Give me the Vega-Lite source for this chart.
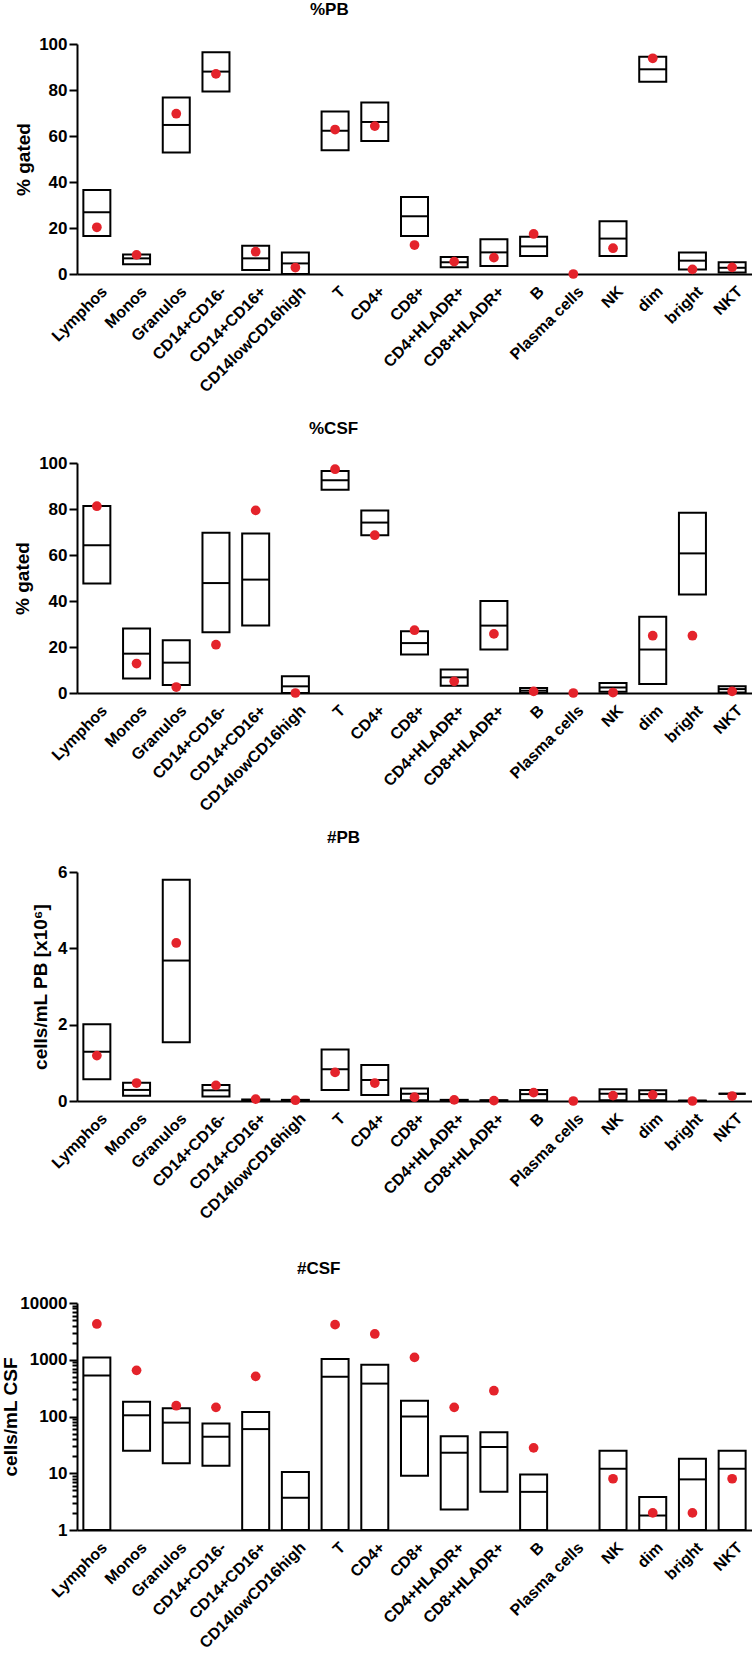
{
  "$schema": "https://vega.github.io/schema/vega-lite/v6.json",
  "padding": {"left": 0, "top": 1, "right": 0, "bottom": 0},
  "background": "white",
  "spacing": 15,
  "config": {
    "view": {"stroke": null},
    "font": "Liberation Sans",
    "axis": {"domainColor": "black", "domainWidth": 2, "tickColor": "black", "tickWidth": 2, "labelFont": "Liberation Sans", "labelFontSize": 16, "labelFontWeight": "bold", "labelColor": "black", "titleFont": "Liberation Sans", "titleFontSize": 19, "titleFontWeight": "bold", "titleColor": "black", "grid": false},
    "axisX": {"ticks": false, "labelAngle": -45, "labelPadding": 9, "labelOffset": 2},
    "axisY": {"tickSize": 8, "labelPadding": 2, "labelFontSize": 17},
    "title": {"font": "Liberation Sans", "fontSize": 17, "fontWeight": "bold", "color": "black", "anchor": "start", "dx": 296, "offset": 16}
  },
  "datasets": {
    "pbpct": [
      {"cell": "Lymphos", "lo": 16.5, "hi": 36.5, "med": 26.8, "pt": 20.3},
      {"cell": "Monos", "lo": 4.2, "hi": 8.5, "med": 6.8, "pt": 8.3},
      {"cell": "Granulos", "lo": 52.8, "hi": 76.7, "med": 64.8, "pt": 69.7},
      {"cell": "CD14+CD16-", "lo": 79.3, "hi": 96.4, "med": 88.0, "pt": 87.0},
      {"cell": "CD14+CD16+", "lo": 1.7, "hi": 12.3, "med": 6.8, "pt": 9.7},
      {"cell": "CD14lowCD16high", "lo": 0, "hi": 9.4, "med": 4.6, "pt": 2.8},
      {"cell": "T", "lo": 53.8, "hi": 70.6, "med": 62.3, "pt": 62.8},
      {"cell": "CD4+", "lo": 57.8, "hi": 74.6, "med": 66.1, "pt": 64.3},
      {"cell": "CD8+", "lo": 16.5, "hi": 33.5, "med": 25.1, "pt": 12.6},
      {"cell": "CD4+HLADR+", "lo": 2.9, "hi": 7.4, "med": 5.1, "pt": 5.4},
      {"cell": "CD8+HLADR+", "lo": 3.5, "hi": 15.1, "med": 9.4, "pt": 7.1},
      {"cell": "B", "lo": 7.8, "hi": 16.2, "med": 12.0, "pt": 17.4},
      {"cell": "Plasma cells", "lo": null, "hi": null, "med": null, "pt": 0},
      {"cell": "NK", "lo": 7.8, "hi": 22.9, "med": 15.4, "pt": 11.2},
      {"cell": "dim", "lo": 83.6, "hi": 94.5, "med": 89.0, "pt": 93.8},
      {"cell": "bright", "lo": 2.0, "hi": 9.3, "med": 5.8, "pt": 2.0},
      {"cell": "NKT", "lo": 0.6, "hi": 5.1, "med": 2.7, "pt": 2.9}
    ],
    "csfpct": [
      {"cell": "Lymphos", "lo": 47.6, "hi": 81.3, "med": 64.2, "pt": 81.2},
      {"cell": "Monos", "lo": 6.3, "hi": 28.0, "med": 17.1, "pt": 12.8},
      {"cell": "Granulos", "lo": 3.5, "hi": 22.9, "med": 13.2, "pt": 2.6},
      {"cell": "CD14+CD16-", "lo": 26.4, "hi": 69.7, "med": 47.8, "pt": 21.0},
      {"cell": "CD14+CD16+", "lo": 29.3, "hi": 69.3, "med": 49.3, "pt": 79.4},
      {"cell": "CD14lowCD16high", "lo": 0, "hi": 7.3, "med": 2.9, "pt": 0},
      {"cell": "T", "lo": 88.4, "hi": 96.5, "med": 92.5, "pt": 97.3},
      {"cell": "CD4+", "lo": 68.6, "hi": 79.4, "med": 74.1, "pt": 68.6},
      {"cell": "CD8+", "lo": 16.7, "hi": 26.8, "med": 21.7, "pt": 27.3},
      {"cell": "CD4+HLADR+", "lo": 3.2, "hi": 10.2, "med": 6.8, "pt": 5.1},
      {"cell": "CD8+HLADR+", "lo": 18.9, "hi": 40.0, "med": 29.3, "pt": 25.7},
      {"cell": "B", "lo": 0, "hi": 2.2, "med": 1.0, "pt": 0.7},
      {"cell": "Plasma cells", "lo": null, "hi": null, "med": null, "pt": 0},
      {"cell": "NK", "lo": 0.5, "hi": 4.4, "med": 2.4, "pt": 0.2},
      {"cell": "dim", "lo": 3.9, "hi": 33.2, "med": 18.9, "pt": 24.9},
      {"cell": "bright", "lo": 42.8, "hi": 78.4, "med": 60.7, "pt": 24.9},
      {"cell": "NKT", "lo": 0.2, "hi": 2.9, "med": 1.7, "pt": 0.7}
    ],
    "pbabs": [
      {"cell": "Lymphos", "lo": 0.57, "hi": 2.01, "med": 1.29, "pt": 1.19},
      {"cell": "Monos", "lo": 0.14, "hi": 0.48, "med": 0.29, "pt": 0.47},
      {"cell": "Granulos", "lo": 1.54, "hi": 5.8, "med": 3.68, "pt": 4.14},
      {"cell": "CD14+CD16-", "lo": 0.12, "hi": 0.42, "med": 0.28, "pt": 0.41},
      {"cell": "CD14+CD16+", "lo": 0, "hi": 0.04, "med": 0.02, "pt": 0.05},
      {"cell": "CD14lowCD16high", "lo": 0, "hi": 0.03, "med": 0.01, "pt": 0.02},
      {"cell": "T", "lo": 0.29, "hi": 1.35, "med": 0.83, "pt": 0.75},
      {"cell": "CD4+", "lo": 0.16, "hi": 0.94, "med": 0.55, "pt": 0.47},
      {"cell": "CD8+", "lo": 0.02, "hi": 0.33, "med": 0.19, "pt": 0.1},
      {"cell": "CD4+HLADR+", "lo": 0, "hi": 0.03, "med": 0.02, "pt": 0.03},
      {"cell": "CD8+HLADR+", "lo": 0, "hi": 0.02, "med": 0.01, "pt": 0.01},
      {"cell": "B", "lo": 0.02, "hi": 0.29, "med": 0.18, "pt": 0.22},
      {"cell": "Plasma cells", "lo": null, "hi": null, "med": null, "pt": 0},
      {"cell": "NK", "lo": 0.02, "hi": 0.31, "med": 0.19, "pt": 0.14},
      {"cell": "dim", "lo": 0.02, "hi": 0.28, "med": 0.18, "pt": 0.16},
      {"cell": "bright", "lo": 0, "hi": 0.01, "med": 0.005, "pt": 0},
      {"cell": "NKT", "lo": 0.19, "hi": 0.19, "med": 0.19, "pt": 0.13}
    ],
    "csfabs": [
      {"cell": "Lymphos", "lo": 1, "hi": 1100, "med": 530, "pt": 4270},
      {"cell": "Monos", "lo": 25, "hi": 182, "med": 105, "pt": 650},
      {"cell": "Granulos", "lo": 15, "hi": 140, "med": 78, "pt": 155},
      {"cell": "CD14+CD16-", "lo": 13.5, "hi": 75, "med": 44, "pt": 145},
      {"cell": "CD14+CD16+", "lo": 1, "hi": 120, "med": 60, "pt": 510},
      {"cell": "CD14lowCD16high", "lo": 1, "hi": 10.5, "med": 3.7, "pt": null},
      {"cell": "T", "lo": 1, "hi": 1030, "med": 500, "pt": 4150},
      {"cell": "CD4+", "lo": 1, "hi": 820, "med": 380, "pt": 2850},
      {"cell": "CD8+", "lo": 9, "hi": 190, "med": 100, "pt": 1100},
      {"cell": "CD4+HLADR+", "lo": 2.3, "hi": 45, "med": 23, "pt": 145},
      {"cell": "CD8+HLADR+", "lo": 4.7, "hi": 53, "med": 29, "pt": 285},
      {"cell": "B", "lo": 1, "hi": 9.5, "med": 4.7, "pt": 28},
      {"cell": "Plasma cells", "lo": null, "hi": null, "med": null, "pt": null},
      {"cell": "NK", "lo": 1, "hi": 25, "med": 12, "pt": 8},
      {"cell": "dim", "lo": 1, "hi": 3.8, "med": 1.8, "pt": 2},
      {"cell": "bright", "lo": 1, "hi": 18, "med": 7.8, "pt": 2},
      {"cell": "NKT", "lo": 1, "hi": 25, "med": 12, "pt": 8}
    ]
  },
  "vconcat": [
    {
      "title": {"text": "%PB"},
      "width": 675, "height": 230,
      "data": {"name": "pbpct"},
      "encoding": {"x": {"field": "cell", "type": "nominal", "sort": ["Lymphos","Monos","Granulos","CD14+CD16-","CD14+CD16+","CD14lowCD16high","T","CD4+","CD8+","CD4+HLADR+","CD8+HLADR+","B","Plasma cells","NK","dim","bright","NKT"], "scale": {"paddingInner": 0, "paddingOuter": 0}, "axis": {"title": " ", "titleFontSize": 1, "titlePadding": 8.5}}},
      "layer": [
        {"mark": {"type": "bar", "fill": "white", "stroke": "black", "strokeWidth": 2, "width": {"band": 0.68}},
         "encoding": {"y": {"field": "lo", "type": "quantitative", "title": "% gated", "scale": {"domain": [0, 100], "nice": false}, "axis": {"values": [0, 20, 40, 60, 80, 100], "titleX": -44}}, "y2": {"field": "hi"}}},
        {"mark": {"type": "tick", "color": "black", "opacity": 1, "thickness": 2, "size": 27},
         "encoding": {"y": {"field": "med", "type": "quantitative", "title": "% gated"}}},
        {"mark": {"type": "circle", "color": "#e4232b", "size": 95, "opacity": 1},
         "encoding": {"y": {"field": "pt", "type": "quantitative", "title": "% gated"}}}
      ]
    },
    {
      "title": {"text": "%CSF"},
      "width": 675, "height": 230,
      "data": {"name": "csfpct"},
      "encoding": {"x": {"field": "cell", "type": "nominal", "sort": ["Lymphos","Monos","Granulos","CD14+CD16-","CD14+CD16+","CD14lowCD16high","T","CD4+","CD8+","CD4+HLADR+","CD8+HLADR+","B","Plasma cells","NK","dim","bright","NKT"], "scale": {"paddingInner": 0, "paddingOuter": 0}, "axis": {"title": null}}},
      "layer": [
        {"mark": {"type": "bar", "fill": "white", "stroke": "black", "strokeWidth": 2, "width": {"band": 0.68}},
         "encoding": {"y": {"field": "lo", "type": "quantitative", "title": "% gated", "scale": {"domain": [0, 100], "nice": false}, "axis": {"values": [0, 20, 40, 60, 80, 100], "titleX": -45}}, "y2": {"field": "hi"}}},
        {"mark": {"type": "tick", "color": "black", "opacity": 1, "thickness": 2, "size": 27},
         "encoding": {"y": {"field": "med", "type": "quantitative", "title": "% gated"}}},
        {"mark": {"type": "circle", "color": "#e4232b", "size": 95, "opacity": 1},
         "encoding": {"y": {"field": "pt", "type": "quantitative", "title": "% gated"}}}
      ]
    },
    {
      "title": {"text": "#PB"},
      "width": 675, "height": 229,
      "data": {"name": "pbabs"},
      "encoding": {"x": {"field": "cell", "type": "nominal", "sort": ["Lymphos","Monos","Granulos","CD14+CD16-","CD14+CD16+","CD14lowCD16high","T","CD4+","CD8+","CD4+HLADR+","CD8+HLADR+","B","Plasma cells","NK","dim","bright","NKT"], "scale": {"paddingInner": 0, "paddingOuter": 0}, "axis": {"title": " ", "titleFontSize": 1, "titlePadding": 21.5}}},
      "layer": [
        {"mark": {"type": "bar", "fill": "white", "stroke": "black", "strokeWidth": 2, "width": {"band": 0.68}},
         "encoding": {"y": {"field": "lo", "type": "quantitative", "title": "cells/mL PB [x10⁶]", "scale": {"domain": [0, 6], "nice": false}, "axis": {"values": [0, 2, 4, 6], "titleX": -27}}, "y2": {"field": "hi"}}},
        {"mark": {"type": "tick", "color": "black", "opacity": 1, "thickness": 2, "size": 27},
         "encoding": {"y": {"field": "med", "type": "quantitative", "title": "cells/mL PB [x10⁶]"}}},
        {"mark": {"type": "circle", "color": "#e4232b", "size": 95, "opacity": 1},
         "encoding": {"y": {"field": "pt", "type": "quantitative", "title": "cells/mL PB [x10⁶]"}}}
      ]
    },
    {
      "title": {"text": "#CSF"},
      "width": 675, "height": 227,
      "data": {"name": "csfabs"},
      "encoding": {"x": {"field": "cell", "type": "nominal", "sort": ["Lymphos","Monos","Granulos","CD14+CD16-","CD14+CD16+","CD14lowCD16high","T","CD4+","CD8+","CD4+HLADR+","CD8+HLADR+","B","Plasma cells","NK","dim","bright","NKT"], "scale": {"paddingInner": 0, "paddingOuter": 0}, "axis": {"title": null}}},
      "layer": [
        {"mark": {"type": "bar", "fill": "white", "stroke": "black", "strokeWidth": 2, "width": {"band": 0.68}},
         "encoding": {"y": {"field": "lo", "type": "quantitative", "title": "cells/mL CSF", "scale": {"type": "log", "domain": [1, 10000], "nice": false}, "axis": {"values": [1,2,3,4,5,6,7,8,9,10,20,30,40,50,60,70,80,90,100,200,300,400,500,600,700,800,900,1000,2000,3000,4000,5000,6000,7000,8000,9000,10000], "format": "d", "labelExpr": "indexof([1,10,100,1000,10000], datum.value) >= 0 ? datum.label : ''", "tickSize": {"condition": {"test": "indexof([1,10,100,1000,10000], datum.value) >= 0", "value": 8}, "value": 5}, "titleX": -57}}, "y2": {"field": "hi"}}},
        {"mark": {"type": "tick", "color": "black", "opacity": 1, "thickness": 2, "size": 27},
         "encoding": {"y": {"field": "med", "type": "quantitative", "title": "cells/mL CSF"}}},
        {"mark": {"type": "circle", "color": "#e4232b", "size": 95, "opacity": 1},
         "encoding": {"y": {"field": "pt", "type": "quantitative", "title": "cells/mL CSF"}}}
      ]
    }
  ]
}
